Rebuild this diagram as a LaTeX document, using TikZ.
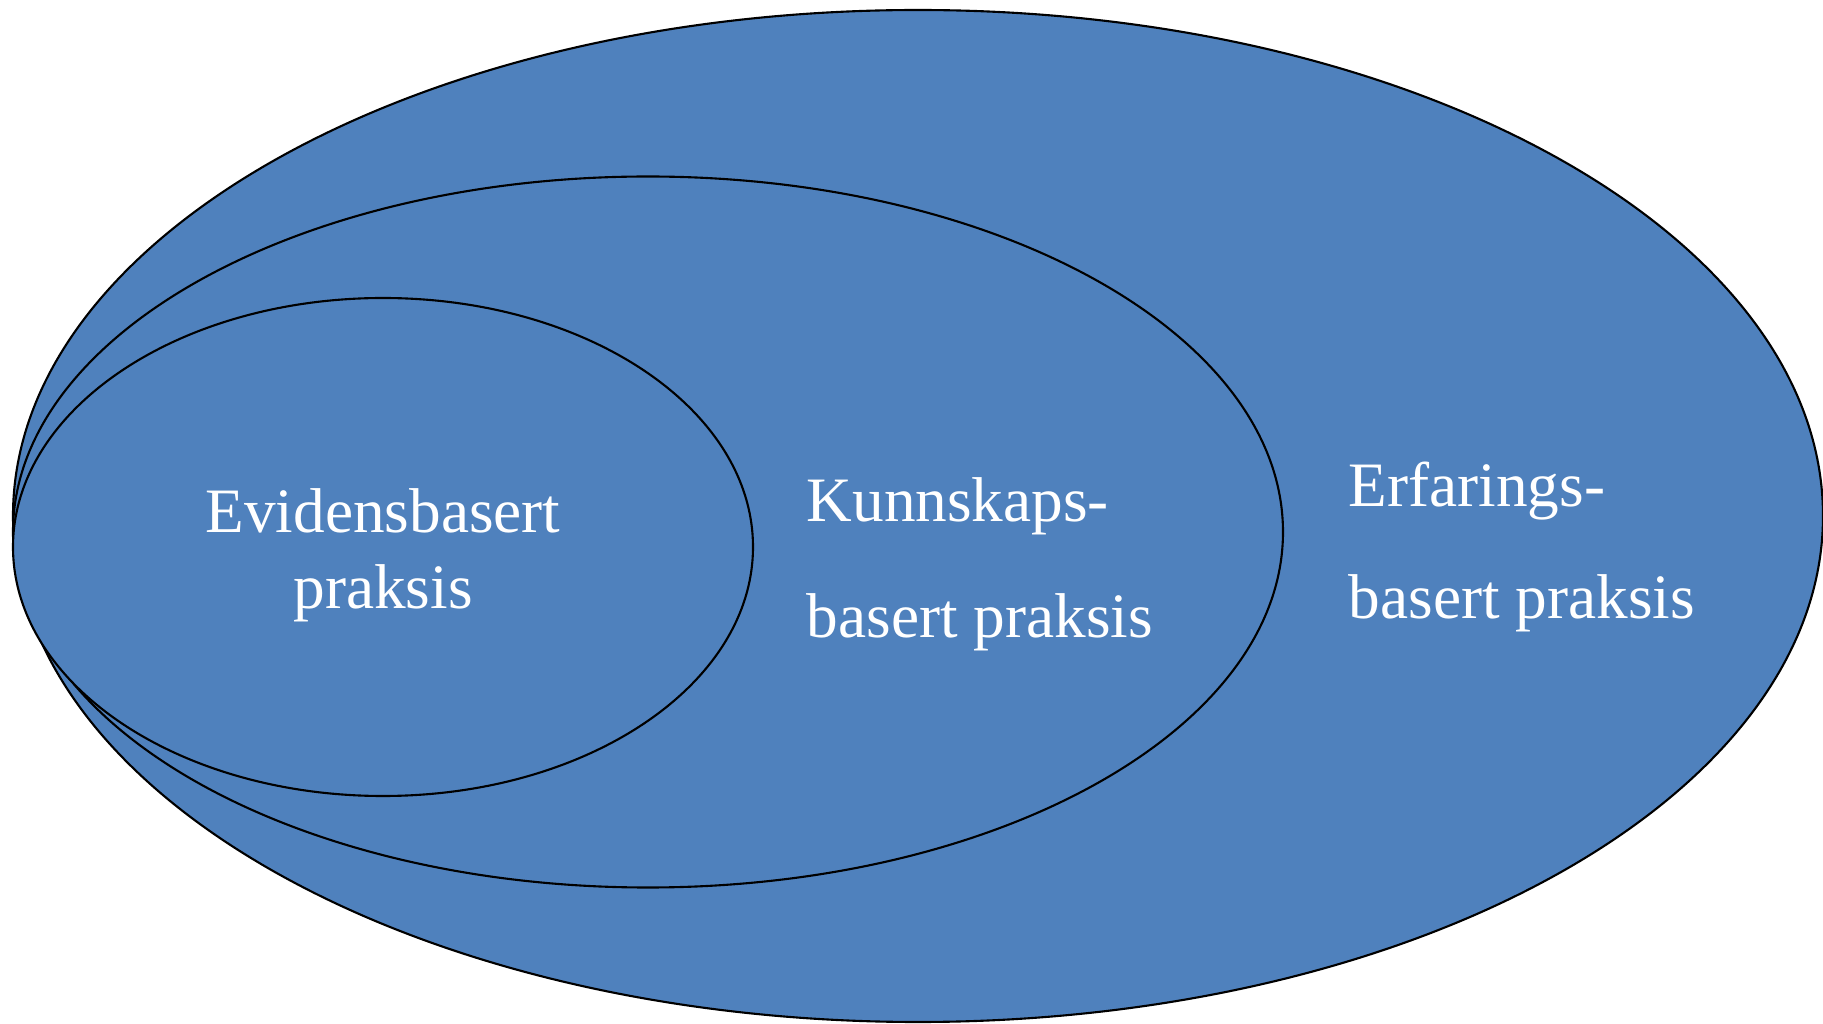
\documentclass[tikz,border=0pt]{standalone}
\usepackage{fontspec}
\setmainfont{Liberation Serif}
\usepackage{tikz}
\definecolor{praksisblue}{HTML}{4F81BD}

\begin{document}
\begin{tikzpicture}[x=1cm,y=1cm,
  ring/.style={fill=praksisblue,draw=black,line width=0.6pt},
  label/.style={text=white,inner sep=0pt}]
\useasboundingbox (0,0) rectangle (18.23,10.24);
\filldraw [ring] (9.18,5.08) ellipse [x radius=9.05, y radius=5.06];
\filldraw [ring] (6.48,4.92) ellipse [x radius=6.35, y radius=3.555];
\filldraw [ring] (3.83,4.77) ellipse [x radius=3.70, y radius=2.49];
\node (evidens)   [label,align=center,font=\fontsize{18}{21.6}\selectfont] at (3.83,4.69) {Evidensbasert\\praksis};
\node (kunnskap)  [label,align=left,anchor=west,font=\fontsize{18}{33}\selectfont] at (8.06,4.60) {Kunnskaps-\\basert praksis};
\node (erfaring)  [label,align=left,anchor=west,font=\fontsize{18}{31.9}\selectfont] at (13.48,4.77) {Erfarings-\\basert praksis};
\end{tikzpicture}
\end{document}
